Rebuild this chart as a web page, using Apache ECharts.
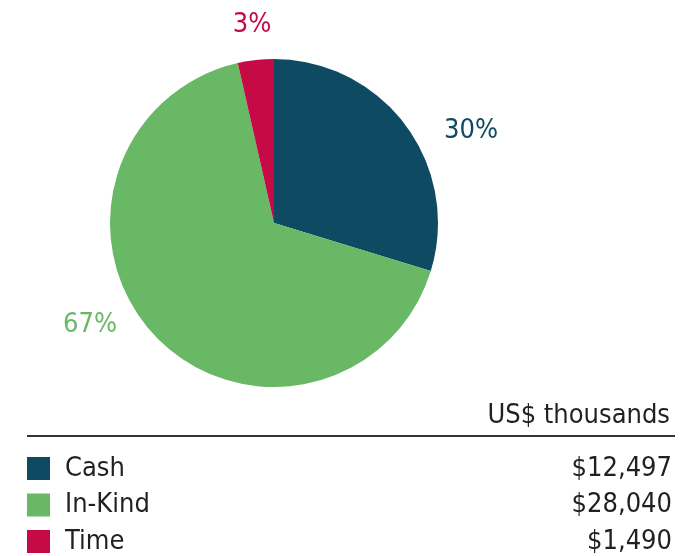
<!DOCTYPE html>
<html>
<head>
<meta charset="utf-8">
<script src="https://cdn.jsdelivr.net/npm/echarts@6/dist/echarts.min.js"></script>
<style>
  html, body { margin: 0; padding: 0; background: #fff; }
  #main { width: 691px; height: 556px; }
</style>
</head>
<body>
<div id="main"></div>
<script>
var categories = ['Cash', 'In-Kind', 'Time'];
var values = [12497, 28040, 1490];
var valueLabels = ['$12,497', '$28,040', '$1,490'];
var colors = ['#0f4a63', '#69b865', '#c50a45'];
var unitLabel = 'US$ thousands';

var FONT = '"DejaVu Sans Condensed", "Liberation Sans", sans-serif';

// where the percentage labels sit (label centres)
var labelPos = [[471, 131], [90, 325], [252, 25]];

var myChart = echarts.init(document.getElementById('main'));

var option = {
    animation: false,
    color: colors,
    title: {
        text: unitLabel,
        right: 16,
        top: 397,
        textStyle: { fontFamily: FONT, fontSize: 27, fontWeight: 'normal', color: '#231f20' }
    },
    legend: {
        orient: 'vertical',
        left: 27,
        top: 455,
        height: 120,
        padding: 0,
        icon: 'rect',
        itemWidth: 23,
        itemHeight: 23,
        itemGap: 9.5,
        selectedMode: false,
        data: categories,
        formatter: function (name) {
            var i = categories.indexOf(name);
            return '{n|' + name + '}{v|' + valueLabels[i] + '}';
        },
        textStyle: {
            fontFamily: FONT,
            fontSize: 27,
            color: '#231f20',
            rich: {
                n: { fontFamily: FONT, fontSize: 27, color: '#231f20', width: 477, padding: [0, 0, 0, 10] },
                v: { fontFamily: FONT, fontSize: 27, color: '#231f20', width: 130, align: 'right' }
            }
        }
    },
    graphic: [{
        type: 'line',
        shape: { x1: 27, y1: 436, x2: 675, y2: 436 },
        style: { stroke: '#333', lineWidth: 2 }
    }],
    series: [{
        type: 'pie',
        center: [274, 223],
        radius: [0, 164],
        startAngle: 90,
        clockwise: true,
        silent: true,
        percentPrecision: 0,
        itemStyle: { borderWidth: 0 },
        label: {
            show: true,
            position: 'outside',
            formatter: '{d}%',
            fontFamily: FONT,
            fontSize: 27
        },
        labelLine: { show: false },
        labelLayout: function (params) {
            var p = labelPos[params.dataIndex];
            return { x: p[0], y: p[1], align: 'center', verticalAlign: 'middle' };
        },
        data: categories.map(function (c, i) {
            return { name: c, value: values[i], label: { color: colors[i] } };
        })
    }]
};

myChart.setOption(option);
</script>
</body>
</html>
